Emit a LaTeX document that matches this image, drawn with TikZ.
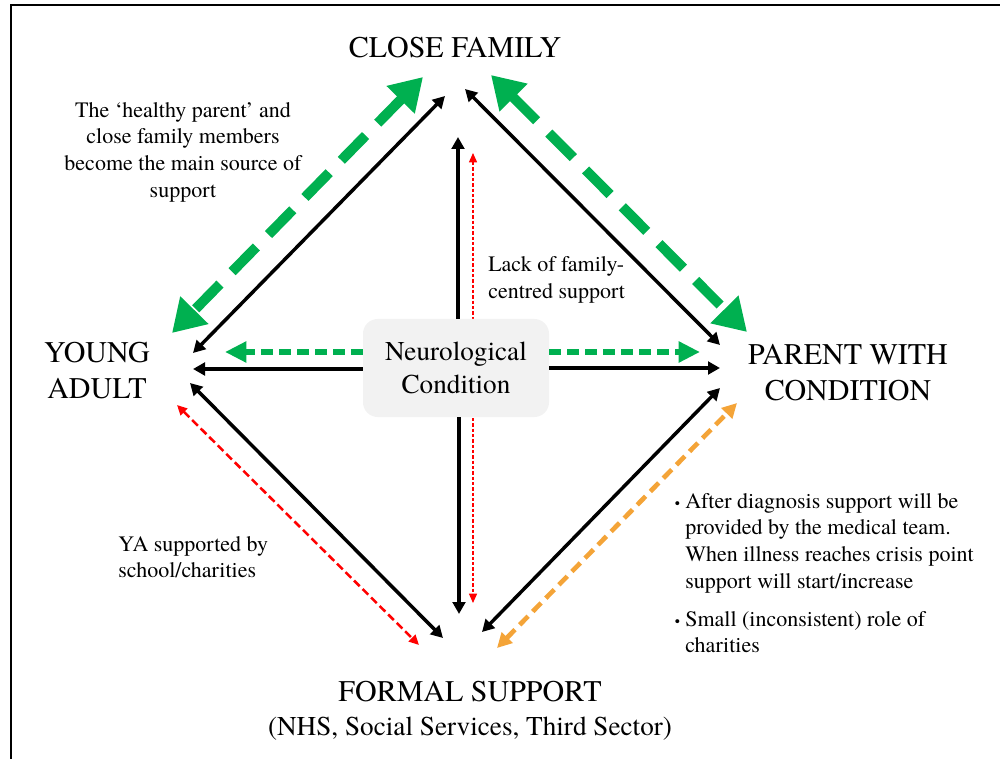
\documentclass[tikz,border=0pt]{standalone}
\usepackage{fontspec}
\setmainfont{TeX Gyre Termes}
\usepackage{xcolor}
\usepackage{tikz}
\usetikzlibrary{arrows.meta}

\definecolor{supgreen}{RGB}{0,176,80}
\definecolor{supred}{RGB}{255,0,0}
\definecolor{suporange}{RGB}{244,164,56}
\definecolor{boxgrey}{RGB}{242,242,242}

\begin{document}
\begin{tikzpicture}[x=0.75pt, y=-0.75pt,
    corner/.style={font=\fontsize{22.5}{27}\selectfont, align=center, inner sep=0pt},
    note/.style={font=\fontsize{16.5}{20}\selectfont, inner sep=0pt},
    cause/.style={fill=boxgrey, rounded corners=11pt, minimum width=139.5pt,
        minimum height=73.5pt, align=center, font=\fontsize{20.4}{24.75}\selectfont},
    blk/.style={line width=2.6pt, >={Triangle[length=9pt,width=9.5pt]}},
    bigdash/.style={supgreen, line width=7.5pt, dash pattern=on 26pt off 13pt,
        >={Triangle[length=24pt,width=28pt]}},
    flatdash/.style={supgreen, line width=4.5pt, dash pattern=on 9pt off 4.5pt,
        >={Triangle[length=16pt,width=15pt]}},
    reddash/.style={supred, line width=1.9pt, dash pattern=on 6pt off 3pt,
        >={Triangle[length=7.5pt,width=7pt]}},
    reddot/.style={supred, line width=1pt, dash pattern=on 2.5pt off 1.5pt,
        >={Triangle[length=7pt,width=6pt]}},
    orangedash/.style={suporange, line width=3.5pt, dash pattern=on 9pt off 5pt,
        >={Triangle[length=11pt,width=11pt]}}]
    \useasboundingbox (0,0) rectangle (1000,759);
    \draw [line width=1.5pt] (11,759) -- (11,5.5) -- (1000,5.5);

    % arrow ends
    \coordinate (ya-ne) at (193,353);
    \coordinate (ya-e) at (193,369);
    \coordinate (ya-se) at (190,383);
    \coordinate (cf-sw) at (445,96);
    \coordinate (cf-se) at (465,89);
    \coordinate (cf-s) at (458,137);
    \coordinate (pwc-nw) at (720,345);
    \coordinate (pwc-w) at (720,368);
    \coordinate (pwc-sw) at (720,388);
    \coordinate (fs-n) at (459,614);
    \coordinate (fs-nw) at (443,638);
    \coordinate (fs-ne) at (482,632);
    \coordinate (g-cf-l) at (423,77);
    \coordinate (g-cf-r) at (491,75);
    \coordinate (g-ya) at (172,333);
    \coordinate (g-ya-e) at (225,352);
    \coordinate (g-pwc) at (747,332);
    \coordinate (g-pwc-w) at (700,352);
    \coordinate (r-ya) at (177,405);
    \coordinate (r-fs) at (419,645);
    \coordinate (r-cf) at (473,153);
    \coordinate (r-fs-n) at (473,603);
    \coordinate (o-fs) at (497,648);
    \coordinate (o-pwc) at (737,403);

    % runs behind the box
    \draw [reddot, <->] (r-cf) -- (r-fs-n);

    % nodes
    \node [corner] (cf) at (455,48) {CLOSE FAMILY};
    \node [corner] (ya) at (97,371) {YOUNG\\ADULT};
    \node [corner] (pwc) at (848,373) {PARENT WITH\\CONDITION};
    \node [corner] (fs) at (470,692) {FORMAL SUPPORT};
    \node [inner sep=0pt, font=\fontsize{20.4}{24}\selectfont] (fsnote) at (470,729)
        {(NHS, Social Services, Third Sector)};
    \node [cause] (nc) at (456,368) {Neurological\\Condition};

    \node [note, align=center] (lblfam) at (183,152)
        {The ‘healthy parent’ and\\close family members\\become the main source of\\support};
    \node [note, align=left, anchor=west] (lbllack) at (488,280)
        {Lack of family-\\centred support};
    \node [note, align=left, anchor=west] (lblya) at (118,557)
        {YA supported by\\school/charities};
    \node [note, align=left, anchor=north west] (lblmed) at (685,493)
        {\llap{{\fontsize{11}{11}\selectfont\textbullet}\hspace{4pt}}After diagnosis support will be\\provided by the medical team.\\When illness reaches crisis point\\support will start/increase};
    \node [note, align=left, anchor=north west] (lblchar) at (685,611)
        {\llap{{\fontsize{11}{11}\selectfont\textbullet}\hspace{4pt}}Small (inconsistent) role of\\charities};

    % green
    \draw [bigdash, <->] (g-cf-l) -- (g-ya);
    \draw [bigdash, <->] (g-cf-r) -- (g-pwc);
    \draw [flatdash, ->] (nc.west |- g-ya-e) -- (g-ya-e);
    \draw [flatdash, ->] (nc.east |- g-pwc-w) -- (g-pwc-w);

    % black
    \draw [blk, <->] (ya-ne) -- (cf-sw);
    \draw [blk, <->] (cf-se) -- (pwc-nw);
    \draw [blk, <->] (ya-se) -- (fs-nw);
    \draw [blk, <->] (fs-ne) -- (pwc-sw);
    \draw [blk, ->] (nc.west |- ya-e) -- (ya-e);
    \draw [blk, ->] (nc.east |- pwc-w) -- (pwc-w);
    \draw [blk, ->] (nc.north -| cf-s) -- (cf-s);
    \draw [blk, ->] (nc.south -| fs-n) -- (fs-n);

    % red and orange
    \draw [reddash, <->] (r-ya) -- (r-fs);
    \draw [orangedash, <->] (o-fs) -- (o-pwc);
\end{tikzpicture}
\end{document}
